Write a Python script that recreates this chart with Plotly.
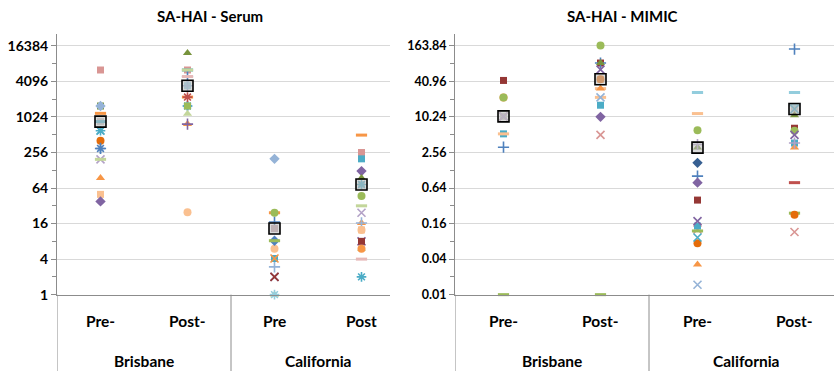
import math
import plotly.graph_objects as go

# ---- values: SA-HAI titres, one list per group; a parallel list names each marker style ----
SERUM_BRIS_PRE = [6400, 1570, 1570, 1180, 855, 855, 600, 600, 405, 300, 300, 196, 196, 95, 50, 38]
SERUM_BRIS_PRE_MK = ["sq_pink", "sq_olive", "dia_lblue", "dash_orange", "sq_gray", "dash_aqua",
                     "x_aqua", "star_aqua", "cir_dorange", "star_blue", "plus_blue", "x_lav",
                     "dash_lgreen", "tri_orange", "sq_peach", "dia_purple"]

SERUM_BRIS_POST = [12400, 6400, 6400, 6400, 4960, 4960, 3470, 3470, 2225, 2225, 1570, 1570, 1570,
                   1160, 776, 776, 25]
SERUM_BRIS_POST_MK = ["tri_green", "sq_pink", "dash_lgreen", "dash_aqua", "plus_blue", "dash_pink",
                      "sq_laqua", "plus_lblue", "star_red", "dash_orange", "sq_green", "dia_lblue",
                      "star_aqua", "tri_lgreen", "tri_orange", "plus_purple", "cir_peach"]

SERUM_CAL_PRE = [200, 24.4, 24.4, 17, 13.2, 8.2, 8.2, 6, 4.1, 4.1, 2.95, 2.0, 2.0, 1.0, 1.0]
SERUM_CAL_PRE_MK = ["dia_lblue", "cir_green", "dash_orange", "plus_blue", "sq_mauve", "dia_blue",
                    "dash_green", "cir_peach", "sq_aqua", "x_orange", "plus_lblue", "x_purple",
                    "x_dred", "tri_lgreen", "star_laqua"]

SERUM_CAL_POST = [505, 256, 200, 124, 95, 73.7, 73.7, 47, 32, 24.4, 16.4, 16.4, 12.5, 12.5, 8, 8,
                  6, 6, 4, 2]
SERUM_CAL_POST_MK = ["dash_orange", "sq_pink", "sq_aqua", "dia_purple", "tri_green", "sq_gray",
                     "star_aqua", "cir_green", "dash_lgreen", "x_lav", "tri_orange", "plus_lblue",
                     "sq_peach", "cir_peach", "sq_dred", "x_purple", "cir_orange", "tri_lgreen",
                     "dash_pink", "star_aqua"]

MIMIC_BRIS_PRE = [42.6, 21.9, 21.9, 10.5, 10.5, 10.5, 5.3, 5.3, 3.15, 0.01]
MIMIC_BRIS_PRE_MK = ["sq_dred", "cir_orange", "cir_green", "sq_gray", "x_pink", "x_lav",
                     "sq_aqua", "dash_peach", "plus_blue", "dash_green"]

MIMIC_BRIS_POST = [166, 84, 84, 84, 65, 44.5, 44.5, 31, 31, 22, 22, 16.2, 10.3, 5.1, 0.01]
MIMIC_BRIS_POST_MK = ["cir_green", "sq_dred", "tri_green", "plus_blue", "x_purple", "sq_peach",
                      "cir_dorange", "tri_orange", "dash_peach", "x_lblue", "dash_peach",
                      "sq_aqua", "dia_purple", "x_pink", "dash_green"]

MIMIC_CAL_PRE = [26.6, 11.7, 6.1, 3.5, 3.1, 1.71, 1.02, 0.79, 0.40, 0.176, 0.145, 0.127, 0.12,
                 0.093, 0.074, 0.0325, 0.0147]
MIMIC_CAL_PRE_MK = ["dash_laqua", "dash_peach", "cir_green", "plus_lav", "tri_green", "dia_dblue",
                    "plus_blue", "dia_purple", "sq_dred", "x_purple", "sq_aqua", "x_pink",
                    "dash_green", "x_aqua", "cir_dorange", "tri_orange", "x_lblue"]

MIMIC_CAL_POST = [145, 26.6, 16.4, 14, 14, 11, 6.6, 6.0, 5.1, 3.7, 3.7, 3.1, 0.79, 0.226, 0.24,
                  0.115]
MIMIC_CAL_POST_MK = ["plus_blue", "dash_laqua", "dash_laqua", "sq_gray", "x_aqua", "tri_green",
                     "sq_dred", "cir_green", "x_purple", "sq_aqua", "plus_lav", "tri_orange",
                     "dash_red", "cir_dorange", "dash_green", "x_pink"]

# group (geometric) means
SERUM_MEANS = [855, 3470, 13.2, 73.7]
MIMIC_MEANS = [10.5, 44.5, 3.1, 14]

SERUM_TICKS = [1, 4, 16, 64, 256, 1024, 4096, 16384]
SERUM_TICK_TEXT = ["1", "4", "16", "64", "256", "1024", "4096", "16384"]
MIMIC_TICKS = [0.01, 0.04, 0.16, 0.64, 2.56, 10.24, 40.96, 163.84]
MIMIC_TICK_TEXT = ["0.01", "0.04", "0.16", "0.64", "2.56", "10.24", "40.96", "163.84"]

SERUM_CATS = ["Pre-", "Post-", "Pre", "Post"]
MIMIC_CATS = ["Pre-", "Post-", "Pre-", "Post-"]
SITES = ["Brisbane", "California"]

# ---- marker styles (Office palette) ----
COL = {
    "blue": "#4F81BD", "dblue": "#376092", "lblue": "#95B3D7",
    "red": "#C0504D", "dred": "#953735", "pink": "#D99694", "lpink": "#E6B9B8",
    "green": "#9BBB59", "olive": "#77933C", "lgreen": "#C3D69B",
    "purple": "#8064A2", "lav": "#B3A2C7",
    "aqua": "#4BACC6", "laqua": "#93CDDD",
    "orange": "#F79646", "dorange": "#E46C0A", "peach": "#FAC090",
    "gray": "#BFBFBF", "mauve": "#BFA3A8",
}
SYM = {"sq": "square", "dia": "diamond", "tri": "triangle-up", "cir": "circle",
       "x": "x-thin", "star": "asterisk", "plus": "cross-thin", "dash": "line-ew"}
COLOR_KEY = {"sq_olive": "olive", "tri_green": "olive", "dash_pink": "lpink", "x_pink": "pink"}


def marker_for(key):
    shape, cname = key.split("_")
    color = COL[COLOR_KEY.get(key, cname)]
    sym = SYM[shape]
    if shape in ("x", "star", "plus"):
        return dict(symbol=sym, size=8, color=color, line=dict(color=color, width=1.6))
    if shape == "dash":
        return dict(symbol=sym, size=8, color=color, line=dict(color=color, width=3))
    size = {"sq": 7, "dia": 8, "tri": 8, "cir": 8}[shape]
    return dict(symbol=sym, size=size, color=color, line=dict(width=0))


fig = go.Figure()

W, H = 834, 379
Y_TOP, Y_BOT = 35, 301           # plot area vertical extent (px)
PX_PER_STEP = 36.3               # px per factor of 4
Y_SPAN = math.log10(4) * (Y_BOT - Y_TOP) / PX_PER_STEP

panels = [
    dict(xa="x", ya="y", x0=57, x1=390, cw=87.0,
         groups=[(SERUM_BRIS_PRE, SERUM_BRIS_PRE_MK), (SERUM_BRIS_POST, SERUM_BRIS_POST_MK),
                 (SERUM_CAL_PRE, SERUM_CAL_PRE_MK), (SERUM_CAL_POST, SERUM_CAL_POST_MK)],
         means=SERUM_MEANS, ticks=SERUM_TICKS, ticktext=SERUM_TICK_TEXT, ymin=1,
         cats=SERUM_CATS, title="SA-HAI - Serum", tx=210, tfs=14),
    dict(xa="x2", ya="y2", x0=455, x1=834, cw=97.0,
         groups=[(MIMIC_BRIS_PRE, MIMIC_BRIS_PRE_MK), (MIMIC_BRIS_POST, MIMIC_BRIS_POST_MK),
                 (MIMIC_CAL_PRE, MIMIC_CAL_PRE_MK), (MIMIC_CAL_POST, MIMIC_CAL_POST_MK)],
         means=MIMIC_MEANS, ticks=MIMIC_TICKS, ticktext=MIMIC_TICK_TEXT, ymin=0.01,
         cats=MIMIC_CATS, title="SA-HAI - MIMIC", tx=622, tfs=12.5),
]

FONT = "Lato"
GRID = "#D9D9D9"
AXIS = "#8C8C8C"
y_dom = [1 - Y_BOT / H, 1 - Y_TOP / H]


def label(text, x, xref, ypx, size=15.5):
    fig.add_annotation(x=x, xref=xref, y=1 - ypx / H, yref="paper", text=text,
                       showarrow=False, xanchor="center", yanchor="middle",
                       font=dict(family=FONT, size=size, color="#000000", weight="bold"))


for i, p in enumerate(panels):
    # collect points by style so each style is one trace
    by_style = {}
    order = []
    for ci, (vals, mks) in enumerate(p["groups"]):
        for v, m in zip(vals, mks):
            if m not in by_style:
                by_style[m] = ([], [])
                order.append(m)
            by_style[m][0].append(ci + 0.5)
            by_style[m][1].append(v)
    for m in order:
        xs, ys = by_style[m]
        fig.add_trace(go.Scatter(x=xs, y=ys, mode="markers", marker=marker_for(m),
                                 xaxis=p["xa"], yaxis=p["ya"], showlegend=False,
                                 cliponaxis=False, hoverinfo="y"))
    fig.add_trace(go.Scatter(
        x=[c + 0.5 for c in range(4)], y=p["means"], mode="markers",
        marker=dict(symbol="square", size=11, color="rgba(190,190,190,0.55)",
                    line=dict(color="black", width=1.6)),
        xaxis=p["xa"], yaxis=p["ya"], showlegend=False, cliponaxis=False, hoverinfo="y"))

    sfx = "" if i == 0 else "2"
    xr = (p["x1"] - p["x0"]) / p["cw"]
    lo = math.log10(p["ymin"])
    minor_vals = [t * 2 for t in p["ticks"][:-1]]
    fig.update_layout(**{
        "xaxis" + sfx: dict(domain=[p["x0"] / W, p["x1"] / W], range=[0, xr],
                            showgrid=False, zeroline=False, showticklabels=False,
                            showline=True, linecolor=AXIS, linewidth=1, ticks="",
                            anchor="y" + sfx, fixedrange=True),
        "yaxis" + sfx: dict(domain=y_dom, type="log", range=[lo, lo + Y_SPAN],
                            tickmode="array", tickvals=p["ticks"], ticktext=p["ticktext"],
                            showgrid=True, gridcolor=GRID, gridwidth=1,
                            showline=True, linecolor=AXIS, linewidth=1,
                            ticks="outside", ticklen=5, tickcolor=AXIS,
                            minor=dict(tickmode="array", tickvals=minor_vals,
                                       ticks="outside", ticklen=4, tickcolor=AXIS,
                                       showgrid=False),
                            zeroline=False, anchor="x" + sfx, fixedrange=True,
                            tickfont=dict(family=FONT, size=p["tfs"], color="#000000",
                                          weight="bold")),
    })

    # category axis: boundary lines below the plot area
    for bx in (0, 2):
        fig.add_shape(type="line", xref=p["xa"], yref="paper", x0=bx, x1=bx,
                      y0=0, y1=y_dom[0], line=dict(color=AXIS, width=1))

    for ci, lab in enumerate(p["cats"]):
        label(lab, ci + 0.5, p["xa"], 328)
    for si, site in enumerate(SITES):
        label(site, 2 * si + 1, p["xa"], 369)
    label(p["title"], p["tx"] / W, "paper", 16, size=15)

fig.update_layout(width=W, height=H, margin=dict(l=0, r=0, t=0, b=0),
                  paper_bgcolor="white", plot_bgcolor="white")

fig.write_html("out.html")
